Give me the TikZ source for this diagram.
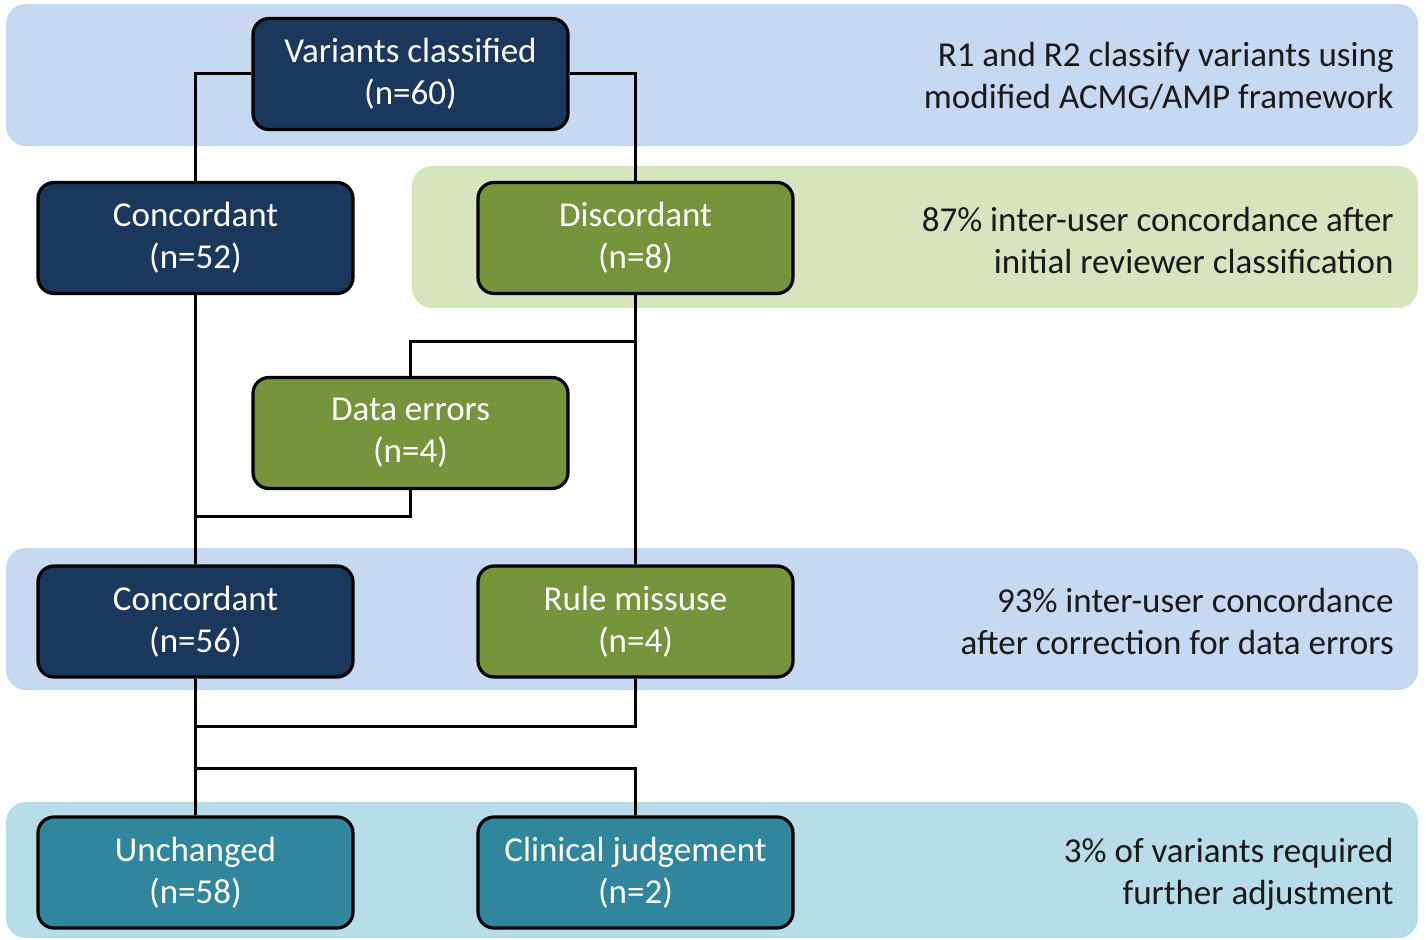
\documentclass[tikz,border=0pt]{standalone}
\usepackage{fontspec}
\setmainfont{Carlito}
\definecolor{bandblue}{HTML}{C6D9F1}
\definecolor{bandgreen}{HTML}{D7E4BD}
\definecolor{bandteal}{HTML}{B7DDE8}
\definecolor{navy}{HTML}{1A375E}
\definecolor{olive}{HTML}{77933C}
\definecolor{teal}{HTML}{31859C}
\begin{document}
\begin{tikzpicture}[x=0.5pt,y=-0.5pt,
  band/.style={fill=#1, draw=none, rounded corners=10pt},
  box/.style={draw=black, line width=1.6pt, fill=#1, rounded corners=8pt,
    minimum width=157.5pt, minimum height=55.5pt, text=white, align=center,
    font=\fontsize{17.5}{21}\selectfont, inner sep=0pt},
  note/.style={anchor=east, align=right, text=black!90, font=\fontsize{17.5}{21}\selectfont, inner sep=0pt},
  conn/.style={draw=black, line width=1.5pt}]
\useasboundingbox (0,0) rectangle (1426,940);
% bands
\fill[band=bandblue] (6,4) rectangle (1418,146);
\fill[band=bandgreen] (412,166) rectangle (1418,308);
\fill[band=bandblue] (6,548) rectangle (1418,690);
\fill[band=bandteal] (6,802) rectangle (1418,938);
% helper coordinates
\coordinate (y342) at (0,342);
\coordinate (y517) at (0,517);
\coordinate (y727) at (0,727);
\coordinate (y769) at (0,769);
% boxes
\node[box=navy] (v) at (410.5,74) {Variants classified\\(n=60)};
\node[box=navy] (c52) at (195.5,238) {Concordant\\(n=52)};
\node[box=olive] (dis) at (635.5,238) {Discordant\\(n=8)};
\node[box=olive] (de) at (410.5,433) {Data errors\\(n=4)};
\node[box=navy] (c56) at (195.5,621.5) {Concordant\\(n=56)};
\node[box=olive] (rule) at (635.5,621.5) {Rule missuse\\(n=4)};
\node[box=teal] (un) at (195.5,872.5) {Unchanged\\(n=58)};
\node[box=teal] (cj) at (635.5,872.5) {Clinical judgement\\(n=2)};
% connectors
\draw[conn] (v.west) -| (c52.north);
\draw[conn] (v.east) -| (dis.north);
\draw[conn] (c52.south) -- (c56.north);
\draw[conn] (dis.south) -- (rule.north);
\draw[conn] (dis.south |- y342) -| (de.north);
\draw[conn] (de.south) -- (de.south |- y517) -- (c52.south |- y517);
\draw[conn] (c56.south) -- (un.north);
\draw[conn] (rule.south) -- (rule.south |- y727) -- (c56.south |- y727);
\draw[conn] (c56.south |- y769) -| (cj.north);
% notes
\node[note] (n1) at (1394,76) {R1 and R2 classify variants using\\modified ACMG/AMP framework};
\node[note] (n2) at (1394,240) {87\% inter-user concordance after\\initial reviewer classification};
\node[note] (n3) at (1394,621) {93\% inter-user concordance\\after correction for data errors};
\node[note] (n4) at (1394,874) {3\% of variants required\\further adjustment};
\end{tikzpicture}
\end{document}
